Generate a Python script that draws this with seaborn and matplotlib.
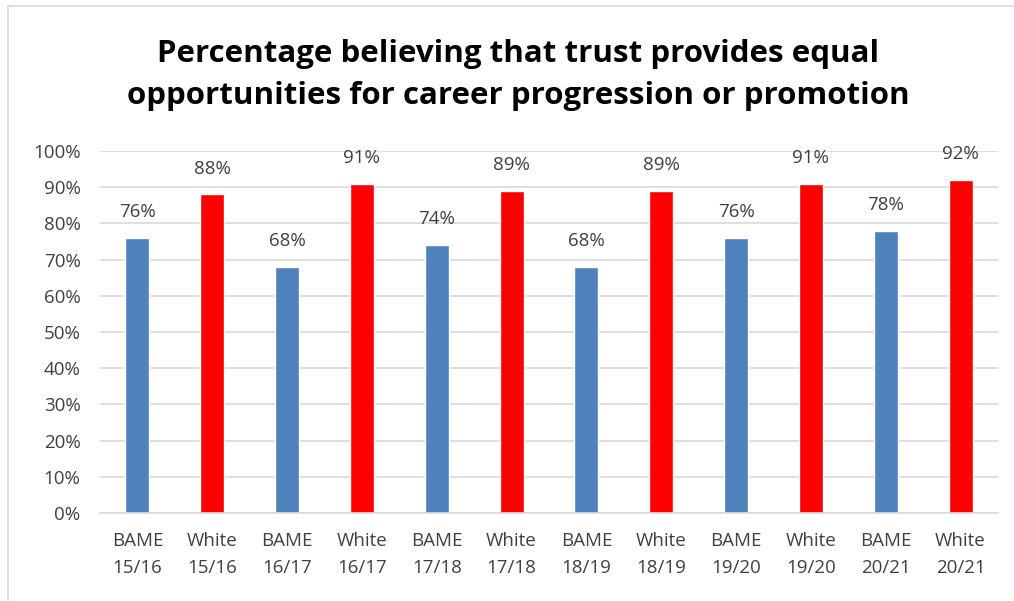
import matplotlib
matplotlib.use("Agg")
import matplotlib.pyplot as plt
from matplotlib.patches import Rectangle
from matplotlib.ticker import FuncFormatter
import seaborn as sns
import pandas as pd

groups = ["BAME", "White"] * 6
years = ["15/16", "15/16", "16/17", "16/17", "17/18", "17/18",
         "18/19", "18/19", "19/20", "19/20", "20/21", "20/21"]
values = [76, 88, 68, 91, 74, 89, 68, 89, 76, 91, 78, 92]
colors = {"BAME": "#4F81BD", "White": "#FF0000"}
title = "Percentage believing that trust provides equal\nopportunities for career progression or promotion"

labels = [f"{g}\n{y}" for g, y in zip(groups, years)]
df = pd.DataFrame({"label": labels, "group": groups, "value": values})

sns.set_theme(style="white")
plt.rcParams["font.family"] = ["Open Sans", "DejaVu Sans"]

W, H = 1014, 601
fig = plt.figure(figsize=(W / 100, H / 100), dpi=100)
fig.patch.set_facecolor("white")
ax = fig.add_axes([100 / W, 1 - 513 / H, 898 / W, (513 - 151) / H])

sns.barplot(data=df, x="label", y="value", hue="group", palette=colors,
            dodge=False, width=0.32, legend=False, ax=ax, saturation=1)

ax.set_ylim(0, 100)
ax.set_xlim(-0.5, len(values) - 0.5)
ax.set_yticks(range(0, 101, 10))
ax.yaxis.set_major_formatter(FuncFormatter(lambda v, _: f"{v:.0f}%"))
ax.grid(axis="y", color="#d9d9d9", linewidth=1.2)
ax.set_axisbelow(True)
for s in ["top", "right", "left"]:
    ax.spines[s].set_visible(False)
ax.spines["bottom"].set_color("#d9d9d9")
ax.spines["bottom"].set_linewidth(1.2)
ax.tick_params(axis="both", length=0, labelsize=13.5, colors="#404040")
ax.tick_params(axis="y", pad=14)
ax.tick_params(axis="x", pad=14)
for t in ax.get_xticklabels():
    t.set_linespacing(1.6)
ax.set_xlabel("")
ax.set_ylabel("")

for cont in ax.containers:
    ax.bar_label(cont, labels=[f"{v:.0f}%" for v in cont.datavalues],
                 padding=12, fontsize=13.5, color="#404040")

fig.text(518 / W, 1 - 75 / H, title, ha="center", va="center",
         fontsize=22.5, fontweight="bold", color="#000000", linespacing=1.55)

fig.patches.append(Rectangle((8 / W, -0.05), 1.2, 1 - 6 / H + 0.05,
                             transform=fig.transFigure, fill=False,
                             edgecolor="#d9d9d9", linewidth=1.2))

fig.savefig("out.png", dpi=100)
